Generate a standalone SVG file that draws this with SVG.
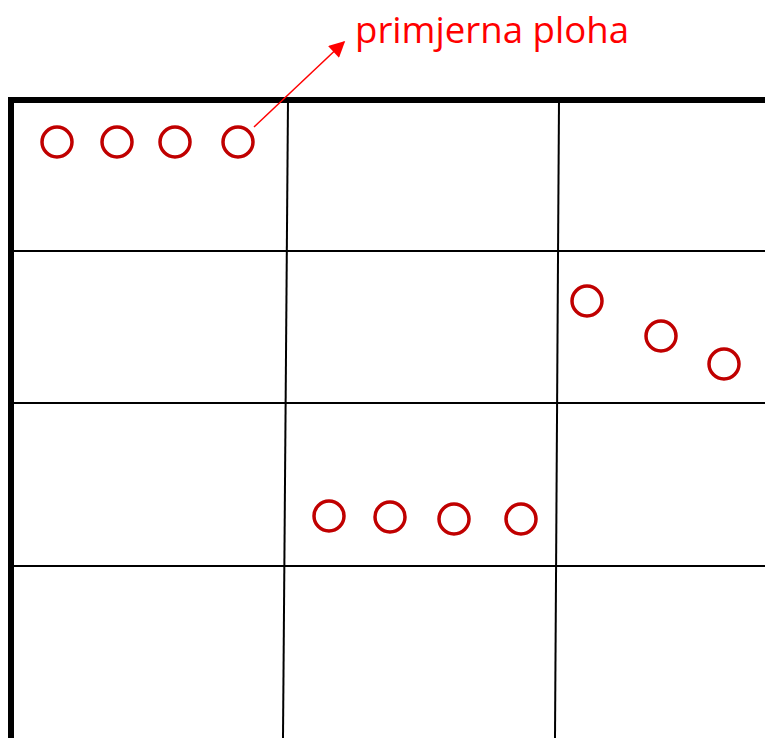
<svg xmlns="http://www.w3.org/2000/svg" width="765" height="738" viewBox="0 0 765 738">
<defs>
<style>
.grid{stroke:#000;stroke-width:2;fill:none}
.border{stroke:#000;stroke-width:6;fill:none}
.c{fill:none;stroke:#C00000;stroke-width:3.5}
.lbl{font-family:"Open Sans","Liberation Sans",sans-serif;font-size:36px;fill:#FF0000}
</style>
<marker id="ah" viewBox="0 0 10 10" refX="9" refY="5" markerWidth="18" markerHeight="16" markerUnits="userSpaceOnUse" orient="auto">
<path d="M0,0 L10,5 L0,10 z" fill="#FF0000"/>
</marker>
</defs>
<rect width="765" height="738" fill="#fff"/>
<g id="grid">
<line class="grid" x1="11" y1="251" x2="765" y2="251"/>
<line class="grid" x1="11" y1="403" x2="765" y2="403"/>
<line class="grid" x1="11" y1="566" x2="765" y2="566"/>
<line class="grid" x1="288" y1="100" x2="283" y2="738"/>
<line class="grid" x1="559" y1="100" x2="555" y2="738"/>
<path class="border" d="M11,738 L11,100 L765,100"/>
</g>
<g id="nodes">
<g id="row1">
<circle class="c" cx="57" cy="142" r="15"/>
<circle class="c" cx="117" cy="142" r="15"/>
<circle class="c" cx="175" cy="142" r="15"/>
<circle class="c" cx="238" cy="142" r="15"/>
</g>
<g id="diag">
<circle class="c" cx="587" cy="301" r="15"/>
<circle class="c" cx="661" cy="336" r="15"/>
<circle class="c" cx="724" cy="364" r="15"/>
</g>
<g id="row3">
<circle class="c" cx="329" cy="516" r="15"/>
<circle class="c" cx="390" cy="517" r="15"/>
<circle class="c" cx="454" cy="519" r="15"/>
<circle class="c" cx="521" cy="519" r="15"/>
</g>
<g id="label">
<text class="lbl" x="355" y="43" textLength="274" lengthAdjust="spacingAndGlyphs">primjerna ploha</text>
</g>
</g>
<g id="connectors">
<line x1="254" y1="127" x2="344" y2="42" stroke="#FF0000" stroke-width="1.5" marker-end="url(#ah)"/>
</g>
</svg>
